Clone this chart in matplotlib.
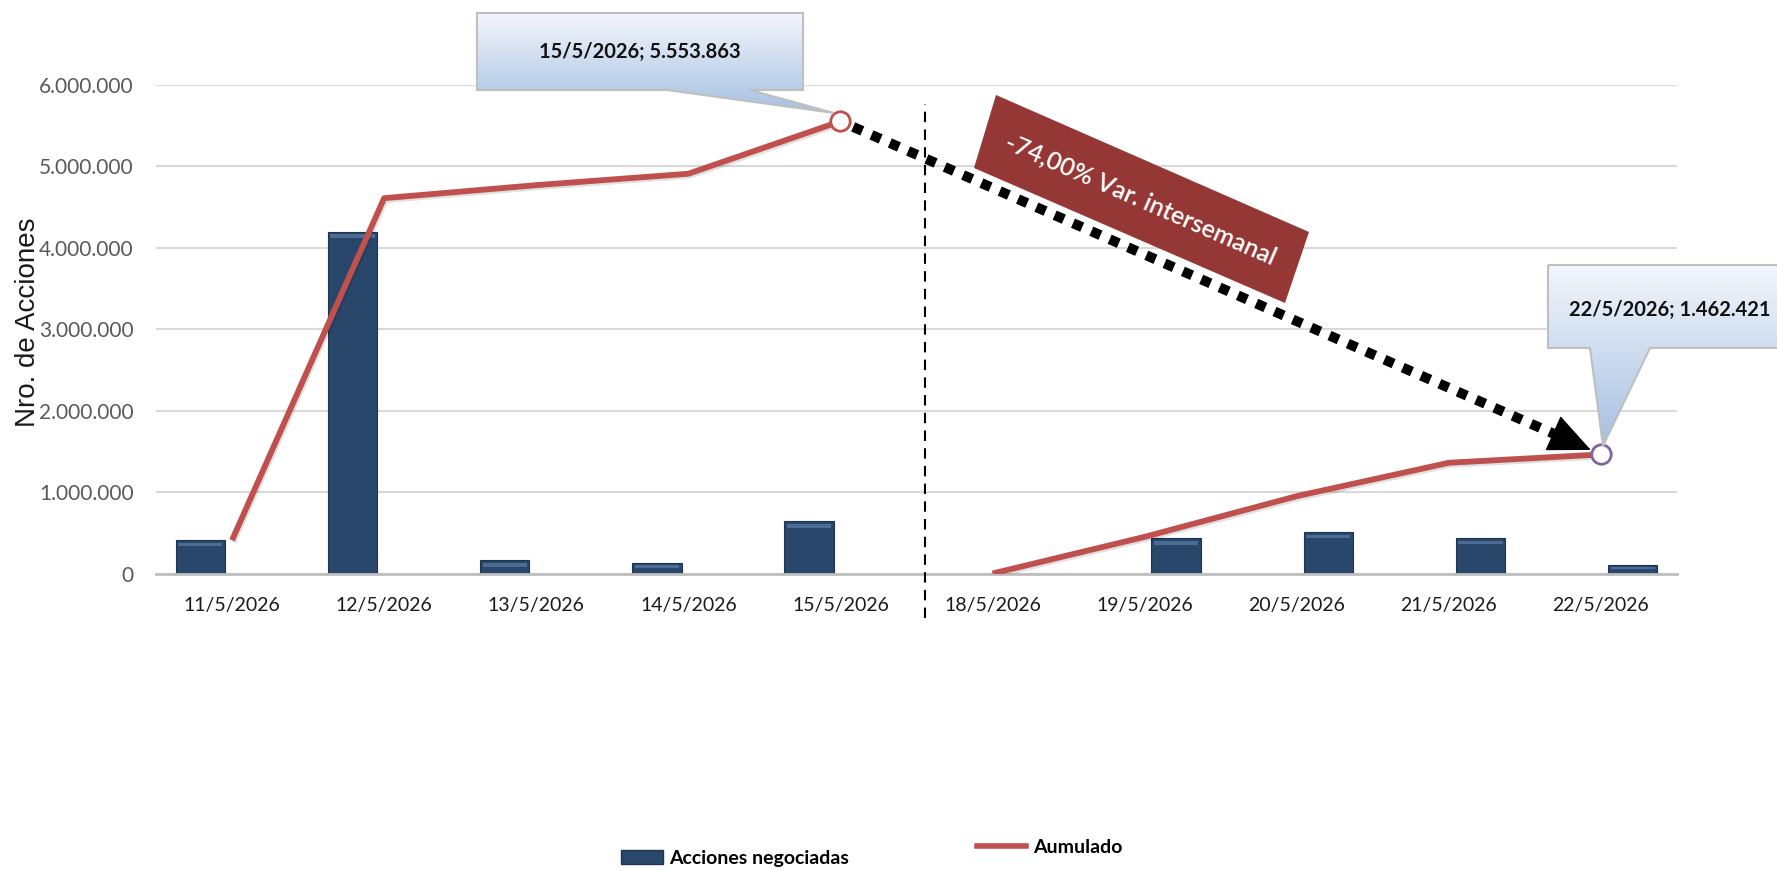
import matplotlib
matplotlib.use('Agg')
import matplotlib.pyplot as plt
import numpy as np
import matplotlib.patheffects as pe
from matplotlib.patches import Polygon, Patch
from matplotlib.lines import Line2D
from matplotlib.colors import to_rgb
from matplotlib.ticker import FuncFormatter

# ---------------- data ----------------
fechas = ['11/5/2026', '12/5/2026', '13/5/2026', '14/5/2026', '15/5/2026',
          '18/5/2026', '19/5/2026', '20/5/2026', '21/5/2026', '22/5/2026']
semana = [1, 1, 1, 1, 1, 2, 2, 2, 2, 2]
acciones = [410000, 4200000, 160000, 130000, 640000,
            0, 430000, 510000, 440000, 110000]
acumulado = [410000, 4610000, 4770000, 4910000, 5553863,
             0, 450000, 950000, 1360000, 1462421]
callout_1 = '15/5/2026; 5.553.863'
callout_2 = '22/5/2026; 1.462.421'
variacion = '-74,00% Var. intersemanal'
yticks = [0, 1000000, 2000000, 3000000, 4000000, 5000000, 6000000]

W, H = 1777, 871
fig = plt.figure(figsize=(W / 100, H / 100), dpi=100)
ax = fig.add_axes([156 / W, 1 - 573.5 / H, (1677 - 156) / W, (573.5 - 85) / H])

BAR = '#29466B'
RED = '#C0504D'
x = np.arange(len(fechas))
offs = np.where(np.array(semana) == 1, -0.208, 0.208)
ax.bar(x + offs, acciones, width=0.326, color=BAR, edgecolor='#1D3350',
       lw=0.8, zorder=2)
# bevel highlight
for xi, v in zip(x + offs, acciones):
    if v <= 0:
        continue
    h = min(90000, 0.55 * v)
    ax.bar(xi, h * 0.45, bottom=v - h * 0.85, width=0.29, color='#6C8CB6',
           alpha=0.55, lw=0, zorder=2.1)

shadow = [pe.SimpleLineShadow(offset=(1, -1.5), shadow_color='k', alpha=0.12),
          pe.Normal()]
for sl in (slice(0, 5), slice(5, 10)):
    ax.plot(x[sl], acumulado[sl], color=RED, lw=4.2, solid_capstyle='butt',
            zorder=3, path_effects=shadow)

ax.plot(x[4], acumulado[4], 'o', ms=14, mfc='white', mec=RED, mew=2,
        zorder=6, clip_on=False)
ax.plot(x[9], acumulado[9], 'o', ms=14, mfc='white', mec='#8064A2', mew=2,
        zorder=6, clip_on=False)

ax.set_xlim(-0.5, 9.5)
ax.set_ylim(0, 6000000)
ax.set_yticks(yticks)
ax.yaxis.set_major_formatter(FuncFormatter(lambda v, p: f'{v:,.0f}'.replace(',', '.')))
ax.set_xticks(x, fechas)
for s in ('top', 'right', 'left'):
    ax.spines[s].set_visible(False)
ax.spines['bottom'].set_color('#BFBFBF')
ax.spines['bottom'].set_linewidth(2)
ax.yaxis.grid(True, color='#D9D9D9', lw=1.5)
ax.set_axisbelow(True)
ax.tick_params(axis='y', length=0, pad=16, labelsize=15, labelcolor='#595959')
ax.tick_params(axis='x', length=0, pad=17, labelsize=14, labelcolor='#1a1a1a')
for lab in ax.get_xticklabels() + ax.get_yticklabels():
    lab.set_family('Lato')

# week separator
ax.plot([4.555, 4.555], [-550000, 5770000], color='black', lw=1.5,
        ls=(0, (5, 3.5)), clip_on=False, zorder=4)

# dotted arrow
L = 36
ux, uy = 0.9144, -0.4049
ax.annotate('', xy=(x[9], acumulado[9]), xytext=(x[4], acumulado[4]),
            arrowprops=dict(arrowstyle='-', color='black', lw=7.2,
                            linestyle=(0, (1, 1.0)), capstyle='butt',
                            joinstyle='miter',
                            shrinkA=10, shrinkB=L - 4),
            annotation_clip=False, zorder=5)
ax.annotate('', xy=(x[9], acumulado[9]), xytext=(-ux * L, -uy * L),
            textcoords='offset points',
            arrowprops=dict(arrowstyle='-|>,head_length=1.0,head_width=0.45',
                            mutation_scale=28, color='black', lw=1,
                            shrinkA=0, shrinkB=8),
            annotation_clip=False, zorder=5)

# ---------------- overlay (pixel coords) ----------------
ov = fig.add_axes([0, 0, 1, 1], zorder=10)
ov.patch.set_visible(False)
ov.axis('off')


def callout(pts, text, tx, ty):
    poly = Polygon(pts, closed=True, fc='none', ec='#BFBFBF', lw=1.5, zorder=3)
    ov.add_patch(poly)
    xs, ys = zip(*pts)
    x0, x1, y0, y1 = min(xs), max(xs), min(ys), max(ys)
    ct = np.array(to_rgb('#F3F6FB'))
    cb = np.array(to_rgb('#A6C0E2'))
    t = np.linspace(0, 1, 256)[:, None]
    grad = (ct * (1 - t) + cb * t)[:, None, :]
    im = ov.imshow(grad, extent=(x0, x1, y1, y0), origin='upper',
                   aspect='auto', zorder=2, interpolation='bilinear')
    im.set_clip_path(poly)
    ov.text(tx, ty, text, ha='center', va='center', fontsize=14.5,
            family='Lato', weight='bold', color='#111111', zorder=4)


callout([(477, 13), (803, 13), (803, 90), (750, 90), (834, 113), (667, 90),
         (477, 90)], callout_1, 640, 52)
callout([(1548, 265), (1790, 265), (1790, 348), (1650, 348), (1603, 446),
         (1590, 348), (1548, 348)], callout_2, 1670, 310)

ov.add_patch(Polygon([(996, 95), (1309, 232), (1285, 303), (974, 168)],
                     closed=True, fc='#953735', ec='none', zorder=3))
ov.text(1141, 199.5, variacion, rotation=-23.6, rotation_mode='anchor',
        ha='center', va='center', color='white', fontsize=18, family='Lato',
        weight='semibold', zorder=4)

ov.set_xlim(0, W)
ov.set_ylim(H, 0)

fig.text(28 / W, 1 - 322 / H, 'Nro. de Acciones', rotation=90, ha='center',
         va='center', fontsize=20, family='Liberation Sans', color='#1a1a1a')

# legend
lp = dict(family='Lato', weight='bold', size=14)
fig.legend(handles=[Patch(facecolor=BAR, edgecolor='#1D3350')],
           labels=['Acciones negociadas'], loc='center left',
           bbox_to_anchor=(621 / W, 1 - 858 / H), frameon=False, borderpad=0,
           borderaxespad=0, handlelength=2.15, handletextpad=0.3, prop=lp)
fig.legend(handles=[Line2D([], [], color=RED, lw=4)], labels=['Aumulado'],
           loc='center left', bbox_to_anchor=(977 / W, 1 - 847 / H),
           frameon=False, borderpad=0, borderaxespad=0, handlelength=2.5,
           handletextpad=0.4, prop=lp)

fig.savefig('out.png', dpi=100)
